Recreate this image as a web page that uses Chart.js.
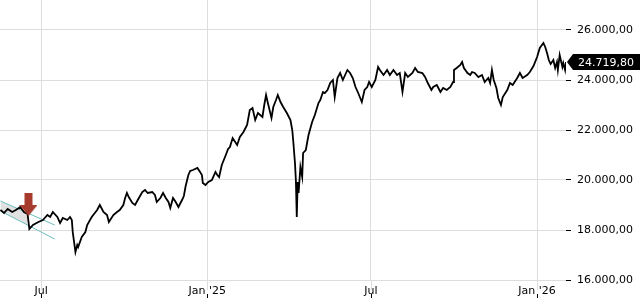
<!DOCTYPE html>
<html>
<head>
<meta charset="utf-8">
<script src="https://cdn.jsdelivr.net/npm/chart.js@4.4.1/dist/chart.umd.min.js"></script>
<style>
  body { margin: 0; background: #fff; }
  canvas { display: block; }
</style>
</head>
<body>
<canvas id="myChart" width="640" height="300"></canvas>
<script>
// index closes
const dates = [
  '2024-05-17','2024-05-21','2024-05-25','2024-05-30','2024-06-03','2024-06-08','2024-06-12','2024-06-16',
  '2024-06-18','2024-06-22','2024-06-28','2024-07-03','2024-07-08','2024-07-11','2024-07-14','2024-07-19',
  '2024-07-22','2024-07-25','2024-07-30','2024-08-02','2024-08-04','2024-08-05','2024-08-08','2024-08-10',
  '2024-08-11','2024-08-15','2024-08-19','2024-08-21','2024-08-26','2024-09-01','2024-09-04','2024-09-08',
  '2024-09-12','2024-09-14','2024-09-19','2024-09-23','2024-09-26','2024-09-30','2024-10-02','2024-10-04',
  '2024-10-06','2024-10-10','2024-10-13','2024-10-16','2024-10-21','2024-10-24','2024-10-27','2024-11-01',
  '2024-11-04','2024-11-06','2024-11-10','2024-11-13','2024-11-16','2024-11-19','2024-11-21','2024-11-24',
  '2024-11-27','2024-11-30','2024-12-04','2024-12-06','2024-12-08','2024-12-11','2024-12-13','2024-12-16',
  '2024-12-21','2024-12-24','2024-12-26','2024-12-27','2024-12-30','2025-01-02','2025-01-06','2025-01-10',
  '2025-01-12','2025-01-14','2025-01-17','2025-01-21','2025-01-24','2025-01-26','2025-01-29','2025-02-03',
  '2025-02-06','2025-02-10','2025-02-14','2025-02-17','2025-02-20','2025-02-23','2025-02-26','2025-03-03',
  '2025-03-05','2025-03-07','2025-03-09','2025-03-13','2025-03-15','2025-03-18','2025-03-20','2025-03-23',
  '2025-03-26','2025-03-30','2025-04-03','2025-04-05','2025-04-06','2025-04-08','2025-04-09','2025-04-10',
  '2025-04-11','2025-04-12','2025-04-14','2025-04-16','2025-04-17','2025-04-20','2025-04-23','2025-04-27',
  '2025-04-30','2025-05-04','2025-05-06','2025-05-09','2025-05-11','2025-05-14','2025-05-17','2025-05-20',
  '2025-05-22','2025-05-25','2025-05-28','2025-05-31','2025-06-05','2025-06-08','2025-06-11','2025-06-14',
  '2025-06-17','2025-06-21','2025-06-24','2025-06-27','2025-06-29','2025-07-02','2025-07-06','2025-07-09',
  '2025-07-11','2025-07-15','2025-07-19','2025-07-22','2025-07-26','2025-07-30','2025-08-02','2025-08-05',
  '2025-08-08','2025-08-11','2025-08-16','2025-08-19','2025-08-22','2025-08-27','2025-08-30','2025-09-02',
  '2025-09-06','2025-09-08','2025-09-12','2025-09-16','2025-09-19','2025-09-23','2025-09-27','2025-09-30',
  '2025-10-01','2025-10-04','2025-10-08','2025-10-10','2025-10-12','2025-10-16','2025-10-19','2025-10-21',
  '2025-10-24','2025-10-28','2025-11-01','2025-11-04','2025-11-08','2025-11-10','2025-11-12','2025-11-14',
  '2025-11-17','2025-11-19','2025-11-22','2025-11-24','2025-11-29','2025-12-02','2025-12-05','2025-12-10',
  '2025-12-13','2025-12-16','2025-12-21','2025-12-24','2025-12-28','2026-01-01','2026-01-04','2026-01-08',
  '2026-01-10','2026-01-12','2026-01-14','2026-01-16','2026-01-19','2026-01-21','2026-01-23','2026-01-24',
  '2026-01-26','2026-01-29','2026-01-30','2026-02-01','2026-02-02'
];
const closes = [
  18800,18680,18840,18720,18800,18920,18720,18640,
  18040,18200,18320,18400,18600,18520,18720,18520,
  18280,18480,18400,18520,18400,17920,17120,17400,
  17320,17720,17920,18200,18520,18800,19000,18720,
  18600,18320,18600,18720,18800,19000,19280,19480,
  19320,19080,19000,19200,19520,19600,19480,19520,
  19400,19120,19280,19480,19280,19120,18880,19280,
  19120,18920,19200,19360,19760,20200,20360,20400,
  20480,20320,20200,19880,19800,19920,20000,20320,
  20200,20120,20600,20960,21240,21320,21680,21400,
  21720,21920,22200,22800,22880,22400,22680,22520,
  23000,23400,23080,22480,22920,23200,23400,23120,
  22920,22680,22400,22000,21600,20680,20000,18520,
  19920,19480,20520,20120,21080,21200,21800,22320,
  22600,23080,23200,23520,23480,23600,23880,24000,
  23320,24080,24280,24000,24400,24280,24080,23720,
  23480,23120,23600,23720,23920,23720,24000,24520,
  24400,24200,24400,24200,24400,24200,24280,23520,
  24280,24120,24280,24480,24320,24280,24120,23880,
  23600,23720,23800,23520,23680,23600,23720,23920,
  24400,24480,24600,24720,24480,24280,24200,24320,
  24280,24120,24200,23920,24080,23880,24400,24000,
  23680,23280,23000,23320,23600,23880,23800,24080,
  24280,24080,24200,24320,24560,24920,25280,25480,
  25320,25080,24800,24640,24800,24480,24720,24400,
  25000,24520,24680,24400,24719.8
];

// trend channel drawn on the chart
const channelDates = ['2024-05-17', '2024-07-16'];
const channelUpper = [19160, 18200];
const channelLower = [18760, 17640];
const shadeDates = ['2024-05-17', '2024-06-16'];
const shadeUpper = [19160, 18680];
const shadeLower = [18760, 18210];
const arrowDate = '2024-06-17';
const arrowValue = 19020;

const xTickDates = ['2024-07-01', '2025-01-01', '2025-07-01', '2026-01-01'];
const xTickLabels = ['Jul', "Jan '25", 'Jul', "Jan '26"];
const yTicks = [16000, 18000, 20000, 22000, 24000, 26000];

const t = d => Date.parse(d + 'T00:00:00Z');
const pts = (ds, vs) => ds.map((d, i) => ({ x: t(d), y: vs[i] }));

function fmt(v) {
  const parts = v.toFixed(2).split('.');
  return parts[0].replace(/\B(?=(\d{3})+(?!\d))/g, '.') + ',' + parts[1];
}

// red down arrow as point style
const arrow = document.createElement('canvas');
arrow.width = 18; arrow.height = 23;
(function () {
  const c = arrow.getContext('2d');
  c.fillStyle = '#a63a2d';
  c.beginPath();
  c.moveTo(5, 0); c.lineTo(13, 0); c.lineTo(13, 12); c.lineTo(18, 12);
  c.lineTo(9, 23); c.lineTo(0, 12); c.lineTo(5, 12);
  c.closePath();
  c.fill();
})();

const extras = {
  id: 'extras',
  afterDraw(chart) {
    const ctx = chart.ctx;
    const a = chart.chartArea;
    const xs = chart.scales.x;
    const ys = chart.scales.y;
    ctx.save();
    xs.ticks.forEach(tk => {
      const px = Math.round(xs.getPixelForValue(tk.value)) + 0.5;
      ctx.strokeStyle = '#dddddd';
      ctx.beginPath(); ctx.moveTo(px, a.bottom); ctx.lineTo(px, a.bottom + 10); ctx.stroke();
      ctx.strokeStyle = '#000';
      ctx.beginPath(); ctx.moveTo(px, a.bottom + 14); ctx.lineTo(px, a.bottom + 18); ctx.stroke();
    });
    const last = closes[closes.length - 1];
    const py = Math.round(ys.getPixelForValue(last));
    ctx.fillStyle = '#000';
    ctx.beginPath();
    ctx.moveTo(a.right + 1, py);
    ctx.lineTo(a.right + 7, py - 8);
    ctx.lineTo(640, py - 8);
    ctx.lineTo(640, py + 8);
    ctx.lineTo(a.right + 7, py + 8);
    ctx.closePath();
    ctx.fill();
    ctx.fillStyle = '#fff';
    ctx.font = '11px "DejaVu Sans"';
    ctx.textBaseline = 'middle';
    ctx.fillText(fmt(last), a.right + 12, py + 1);
    ctx.restore();
  }
};

new Chart(document.getElementById('myChart'), {
  type: 'line',
  data: {
    datasets: [
      { data: [{ x: t(arrowDate), y: arrowValue }], pointStyle: arrow, pointRadius: 9, showLine: false, order: 0 },
      { data: pts(dates, closes), borderColor: '#000', borderWidth: 1.8, pointRadius: 0, tension: 0, order: 1 },
      { data: pts(channelDates, channelUpper), borderColor: '#6bbdbd', borderWidth: 1, pointRadius: 0, order: 2 },
      { data: pts(channelDates, channelLower), borderColor: '#6bbdbd', borderWidth: 1, pointRadius: 0, order: 2 },
      { data: pts(shadeDates, shadeUpper), borderWidth: 0, pointRadius: 0, fill: '+1', backgroundColor: 'rgba(200,200,200,0.55)', order: 3 },
      { data: pts(shadeDates, shadeLower), borderWidth: 0, pointRadius: 0, order: 3 }
    ]
  },
  options: {
    responsive: false,
    animation: false,
    layout: { padding: 0, autoPadding: false },
    plugins: { legend: { display: false }, tooltip: { enabled: false } },
    scales: {
      x: {
        type: 'linear',
        min: Date.parse('2024-05-16T12:00:00Z'),
        max: t('2026-02-02'),
        afterBuildTicks: s => { s.ticks = xTickDates.map(d => ({ value: t(d) })); },
        afterFit: s => { s.height = 20; s.paddingLeft = 0; s.paddingRight = 0; },
        grid: { color: '#dddddd', drawTicks: false },
        border: { display: false },
        ticks: {
          autoSkip: false, maxRotation: 0, padding: 5, color: '#000',
          font: { family: 'DejaVu Sans', size: 11 },
          callback: (v, i) => xTickLabels[i]
        }
      },
      y: {
        position: 'right',
        min: 16000,
        max: 27200,
        afterBuildTicks: s => { s.ticks = yTicks.map(v => ({ value: v })); },
        afterFit: s => { s.width = 74; s.paddingTop = 0; s.paddingBottom = 0; },
        grid: { color: '#dddddd', tickColor: '#000', tickLength: 5 },
        border: { display: false },
        ticks: {
          padding: 6, color: '#000',
          font: { family: 'DejaVu Sans', size: 11 },
          callback: v => fmt(v)
        }
      }
    }
  },
  plugins: [extras]
});
</script>
</body>
</html>
